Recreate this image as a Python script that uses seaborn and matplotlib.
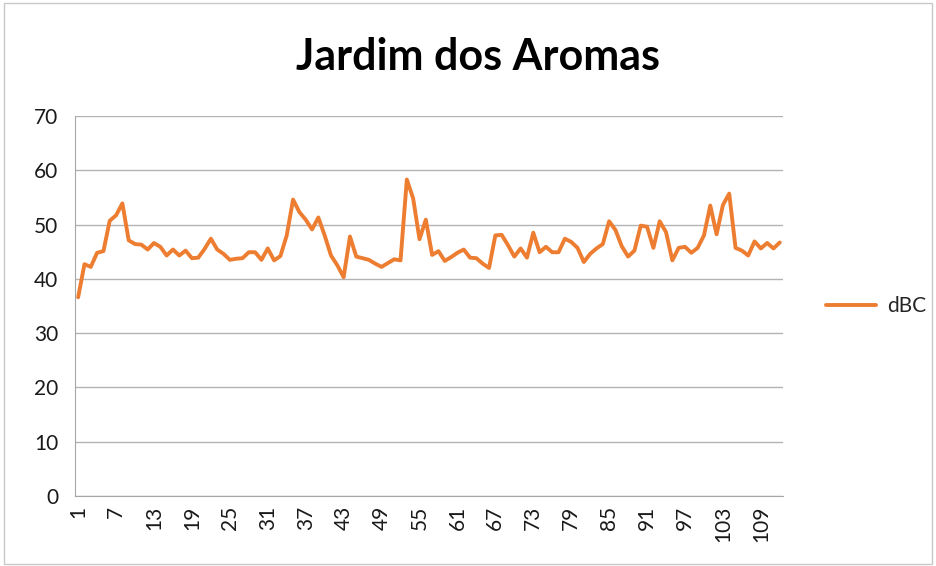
import numpy as np
import pandas as pd
import matplotlib
matplotlib.use("Agg")
import matplotlib.pyplot as plt
import seaborn as sns

# Leituras de nível sonoro (dBC) por medição
dbc = [
    36.6, 42.7, 42.2, 44.8, 45.1, 50.7, 51.7, 53.9, 47.1, 46.4,
    46.3, 45.4, 46.6, 45.9, 44.3, 45.4, 44.3, 45.2, 43.8, 43.9,
    45.5, 47.4, 45.4, 44.6, 43.5, 43.7, 43.8, 44.9, 44.9, 43.5,
    45.6, 43.4, 44.2, 48.0, 54.6, 52.3, 50.9, 49.1, 51.3, 48.0,
    44.3, 42.5, 40.3, 47.8, 44.1, 43.8, 43.5, 42.8, 42.2, 42.9,
    43.6, 43.4, 58.3, 54.8, 47.3, 50.9, 44.4, 45.1, 43.3, 44.0,
    44.8, 45.4, 43.9, 43.8, 42.8, 42.0, 48.0, 48.1, 46.2, 44.1,
    45.6, 43.9, 48.5, 44.9, 45.9, 44.9, 44.9, 47.4, 46.8, 45.7,
    43.1, 44.6, 45.6, 46.4, 50.6, 49.0, 46.0, 44.1, 45.2, 49.8,
    49.6, 45.7, 50.6, 48.6, 43.4, 45.7, 45.9, 44.8, 45.7, 48.0,
    53.5, 48.2, 53.6, 55.7, 45.7, 45.2, 44.3, 46.9, 45.6, 46.6,
    45.6, 46.7,
]
medicao = list(range(1, len(dbc) + 1))
x_labels = list(range(1, len(dbc) + 1, 6))
y_ticks = [0, 10, 20, 30, 40, 50, 60, 70]

df = pd.DataFrame({"medicao": medicao, "dBC": dbc})

sns.set_style("white")
plt.rcParams["font.family"] = ["Lato", "DejaVu Sans"]

fig = plt.figure(figsize=(9.36, 5.66), dpi=100)
ax = fig.add_axes([0.0801, 0.1237, 0.7564, 0.6714])

sns.lineplot(data=df, x="medicao", y="dBC", ax=ax, color="#ED7D31",
             linewidth=2.8, label="dBC")

ax.set_xlim(0.5, len(dbc) + 0.5)
ax.set_ylim(0, 70)
ax.set_yticks(y_ticks)
ax.set_yticklabels([str(v) for v in y_ticks], fontsize=15, color="#1a1a1a")
ax.set_xticks(x_labels)
ax.set_xticklabels([str(v) for v in x_labels], rotation=90, fontsize=15,
                   color="#1a1a1a")
ax.set_xticks(np.arange(0.5, len(dbc) + 1, 1), minor=True)
ax.tick_params(axis="x", which="major", length=0, pad=7)
ax.tick_params(axis="x", which="minor", length=5, color="#a6a6a6", width=0.8)
ax.tick_params(axis="y", length=0, pad=12)

ax.grid(axis="y", color="#b3b3b3", linewidth=1)
ax.set_axisbelow(True)
for side in ["top", "right"]:
    ax.spines[side].set_visible(False)
ax.spines["left"].set_color("#a6a6a6")
ax.spines["bottom"].set_color("#a6a6a6")
ax.set_xlabel("")
ax.set_ylabel("")

fig.text(0.511, 0.899, "Jardim dos Aromas", ha="center", va="center",
         fontsize=31, fontweight="bold", color="black")

ax.legend(loc="center left", bbox_to_anchor=(1.035, 0.5), frameon=False,
          fontsize=15, handlelength=2.4, handletextpad=0.5)

fig.patches.append(plt.Rectangle((0.004, 0.004), 0.992, 0.99,
                                 transform=fig.transFigure, fill=False,
                                 edgecolor="#c8c8c8", linewidth=1))

fig.savefig("out.png", dpi=100)
